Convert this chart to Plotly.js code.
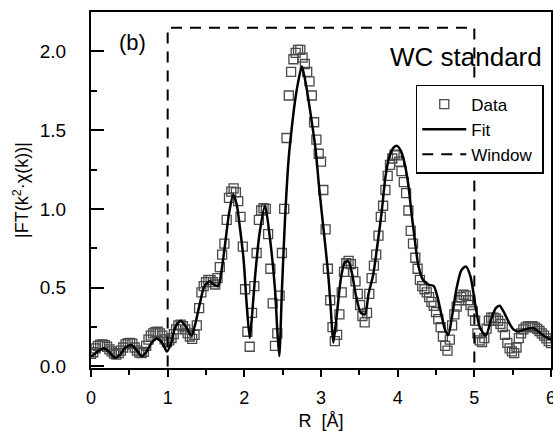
<!DOCTYPE html>
<html>
<head>
<meta charset="utf-8">
<script src="https://cdn.plot.ly/plotly-3.0.1.min.js"></script>
<style>html,body{margin:0;padding:0;background:#fff;}#chart{width:553px;height:431px;}</style>
</head>
<body>
<div id="chart"></div>
<script>
// Data: |FT| sampled on a uniform R grid (step 0.03 Å, from 0 to 6 Å)
var dataStep = 0.03;
var dataY = [
 0.08, 0.09, 0.115, 0.13, 0.138, 0.14, 0.135, 0.125, 0.108, 0.095,
 0.082, 0.075, 0.085, 0.10, 0.12, 0.14, 0.148, 0.15, 0.145, 0.12,
 0.10, 0.087, 0.085, 0.092, 0.13, 0.17, 0.195, 0.21, 0.218, 0.22,
 0.21, 0.195, 0.172, 0.155, 0.165, 0.18, 0.205, 0.235, 0.26, 0.265,
 0.255, 0.235, 0.21, 0.19, 0.175, 0.20, 0.26, 0.37, 0.47, 0.51,
 0.535, 0.55, 0.548, 0.535, 0.52, 0.56, 0.63, 0.71, 0.78, 0.93,
 1.07, 1.11, 1.13, 1.105, 1.05, 0.95, 0.76, 0.49, 0.22, 0.125,
 0.34, 0.51, 0.72, 0.93, 0.99, 1.005, 1.0, 0.84, 0.62, 0.40,
 0.13, 0.21, 0.45, 0.72, 1.0, 1.45, 1.72, 1.87, 1.95, 1.99,
 2.01, 2.01, 1.96, 1.92, 1.87, 1.81, 1.72, 1.55, 1.44, 1.35,
 1.3, 1.12, 0.87, 0.62, 0.42, 0.25, 0.16, 0.2, 0.33, 0.47,
 0.60, 0.655, 0.67, 0.65, 0.60, 0.54, 0.46, 0.39, 0.32, 0.28,
 0.34, 0.46, 0.56, 0.64, 0.71, 0.83, 0.95, 1.02, 1.12, 1.21,
 1.28, 1.32, 1.345, 1.34, 1.30, 1.24, 1.17, 1.10, 0.99, 0.86,
 0.78, 0.69, 0.62, 0.55, 0.51, 0.49, 0.47, 0.44, 0.41, 0.385,
 0.345, 0.30, 0.25, 0.19, 0.13, 0.10, 0.17, 0.26, 0.33, 0.38,
 0.42, 0.44, 0.455, 0.45, 0.42, 0.39, 0.35, 0.29, 0.21, 0.165,
 0.155, 0.18, 0.24, 0.29, 0.31, 0.31, 0.305, 0.29, 0.27, 0.25,
 0.20, 0.15, 0.115, 0.095, 0.085, 0.12, 0.18, 0.21, 0.235, 0.248,
 0.254, 0.256, 0.255, 0.248, 0.238, 0.225, 0.21, 0.195, 0.178, 0.16,
 0.148
];
var dataR = dataY.map(function(_, i){ return Math.round(i * dataStep * 1000) / 1000; });

// Fit curve
var fitR = [0, 0.05, 0.10, 0.17, 0.24, 0.31, 0.38, 0.45, 0.53, 0.60, 0.66, 0.72, 0.79, 0.86, 0.93, 0.99, 1.04, 1.10, 1.17, 1.24, 1.31, 1.36, 1.42, 1.48, 1.55, 1.60, 1.66, 1.70, 1.75, 1.80, 1.856, 1.90, 1.94, 1.99, 2.03, 2.07, 2.10, 2.14, 2.20, 2.27, 2.33, 2.40, 2.43, 2.456, 2.49, 2.53, 2.58, 2.62, 2.66, 2.70, 2.75, 2.80, 2.856, 2.93, 2.97, 3.01, 3.06, 3.10, 3.13, 3.16, 3.20, 3.26, 3.31, 3.357, 3.40, 3.46, 3.52, 3.574, 3.62, 3.68, 3.73, 3.79, 3.84, 3.89, 3.95, 3.99, 4.04, 4.09, 4.14, 4.18, 4.22, 4.27, 4.33, 4.40, 4.47, 4.52, 4.57, 4.62, 4.66, 4.71, 4.77, 4.83, 4.89, 4.95, 5.01, 5.07, 5.15, 5.22, 5.28, 5.33, 5.39, 5.45, 5.51, 5.57, 5.63, 5.70, 5.77, 5.84, 5.92, 6.00];
var fitY = [0.063, 0.08, 0.10, 0.115, 0.09, 0.055, 0.075, 0.12, 0.135, 0.10, 0.065, 0.09, 0.15, 0.178, 0.15, 0.095, 0.14, 0.25, 0.29, 0.25, 0.195, 0.27, 0.40, 0.51, 0.54, 0.52, 0.51, 0.60, 0.78, 0.97, 1.09, 1.03, 0.89, 0.68, 0.40, 0.18, 0.32, 0.57, 0.85, 1.02, 0.83, 0.49, 0.23, 0.065, 0.48, 0.93, 1.33, 1.52, 1.68, 1.80, 1.905, 1.80, 1.63, 1.375, 1.165, 0.975, 0.75, 0.55, 0.35, 0.15, 0.30, 0.56, 0.66, 0.667, 0.60, 0.44, 0.34, 0.33, 0.46, 0.58, 0.75, 0.975, 1.2, 1.33, 1.39, 1.40, 1.37, 1.29, 1.15, 0.975, 0.82, 0.64, 0.55, 0.52, 0.51, 0.44, 0.33, 0.23, 0.20, 0.32, 0.50, 0.61, 0.635, 0.57, 0.40, 0.25, 0.195, 0.30, 0.37, 0.385, 0.34, 0.28, 0.235, 0.222, 0.23, 0.24, 0.244, 0.22, 0.19, 0.17];

// Fourier-transform window
var windowR = [1, 1, 5, 5];
var windowY = [0, 2.15, 2.15, 0];

// Axis ticks
var xTicks = [0, 1, 2, 3, 4, 5, 6];
var yTicks = [0, 0.5, 1.0, 1.5, 2.0];
var yTickText = ['0.0', '0.5', '1.0', '1.5', '2.0'];

var FONT = 'Liberation Sans, Arial, sans-serif';

var traces = [
  {x: dataR, y: dataY, name: 'Data', type: 'scatter', mode: 'markers',
   marker: {symbol: 'square-open', size: 9, color: '#4a4a4a', line: {width: 1.3, color: '#4a4a4a'}}},
  {x: fitR, y: fitY, name: 'Fit', type: 'scatter', mode: 'lines',
   line: {color: '#000', width: 2.5, shape: 'spline', smoothing: 0.7}},
  {x: windowR, y: windowY, name: 'Window\u00a0', type: 'scatter', mode: 'lines',
   line: {color: '#000', width: 2, dash: '11px,8px'}}
];

var layout = {
  width: 553, height: 431,
  margin: {l: 91, r: 2, t: 12, b: 63},
  paper_bgcolor: '#fff', plot_bgcolor: '#fff',
  font: {family: FONT, color: '#000'},
  showlegend: true,
  legend: {x: 0.706, y: 0.795, xanchor: 'left', yanchor: 'top',
           bgcolor: '#fff', bordercolor: '#000', borderwidth: 1.5,
           font: {family: FONT, size: 17, color: '#000'}, tracegroupgap: 0, itemwidth: 44},
  xaxis: {
    range: [0, 6], tickvals: xTicks, ticktext: xTicks.map(String),
    ticks: 'outside', ticklen: 7, tickwidth: 2, tickcolor: '#000',
    minor: {dtick: 0.5, ticks: 'outside', ticklen: 5, tickwidth: 2, tickcolor: '#000', showgrid: false},
    showline: true, linewidth: 2, linecolor: '#000', mirror: true,
    showgrid: false, zeroline: false,
    ticklabeloverflow: 'allow', ticklabelstandoff: 5,
    tickfont: {family: FONT, size: 18, color: '#000'},
    title: {text: 'R  [Å]', font: {family: FONT, size: 18, color: '#000'}, standoff: 9}
  },
  yaxis: {
    range: [-0.01, 2.25], tickvals: yTicks, ticktext: yTickText,
    ticks: 'inside', ticklen: 13, tickwidth: 2, tickcolor: '#000',
    minor: {dtick: 0.25, ticks: 'inside', ticklen: 6, tickwidth: 2, tickcolor: '#000', showgrid: false},
    showline: true, linewidth: 2, linecolor: '#000', mirror: true,
    showgrid: false, zeroline: false,
    tickfont: {family: FONT, size: 19, color: '#000'},
    ticklabelstandoff: 19,
    title: {text: '|FT(k<sup>2</sup>·χ(k))|', font: {family: FONT, size: 18, color: '#000'}, standoff: 6}
  },
  annotations: [
    {text: '(b)', xref: 'paper', yref: 'paper', x: 0.057, y: 0.915, xanchor: 'left', yanchor: 'middle',
     showarrow: false, font: {family: FONT, size: 22, color: '#000'}},
    {text: 'WC standard', xref: 'paper', yref: 'paper', x: 0.985, y: 0.875, xanchor: 'right', yanchor: 'middle',
     showarrow: false, font: {family: FONT, size: 26, color: '#000'}}
  ]
};

Plotly.newPlot('chart', traces, layout, {displayModeBar: false, staticPlot: true});
</script>
</body>
</html>
